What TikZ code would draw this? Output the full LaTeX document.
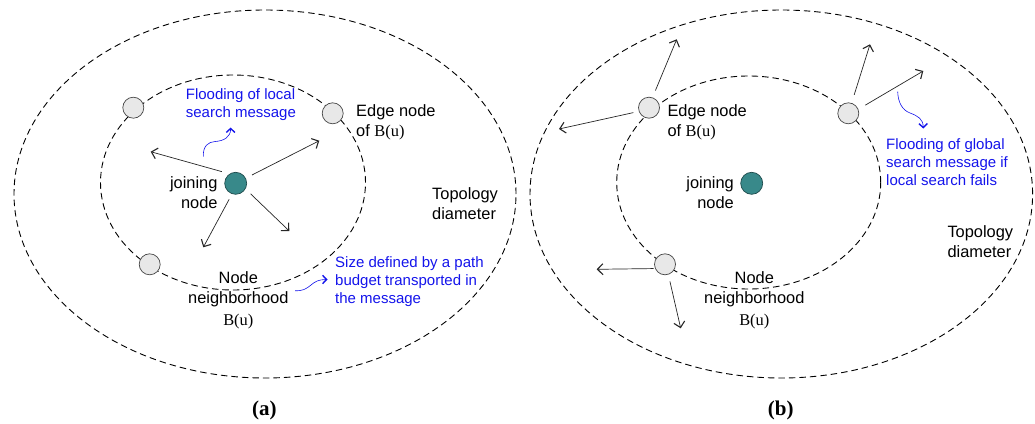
\documentclass[tikz,border=0pt]{standalone}
\usepackage{fontspec}
\setmainfont{Liberation Sans}
\newfontfamily\serifB{Liberation Serif}
\usetikzlibrary{arrows.meta}
\definecolor{teal1}{RGB}{56,137,138}
\definecolor{teal2}{RGB}{30,75,76}
\definecolor{edgefill}{RGB}{232,232,232}
\definecolor{edgeline}{RGB}{70,70,70}
\definecolor{noteblue}{RGB}{20,20,235}
\tikzset{
  ring/.style={draw=black, line width=0.9pt, dash pattern=on 6.5pt off 4pt},
  joinnode/.style={circle, draw=teal2, fill=teal1, line width=0.7pt, minimum size=22pt, inner sep=0pt},
  edgenode/.style={circle, draw=edgeline, fill=edgefill, line width=0.7pt, minimum size=21pt, inner sep=0pt},
  msg/.style={draw=black!85, line width=0.7pt, -{Straight Barb[length=5.5pt,width=11pt,line width=1.1pt]}},
  note/.style={noteblue, font=\fontsize{15}{18}\selectfont, align=left, inner sep=0pt},
  notearrow/.style={draw=noteblue, line width=0.6pt, -{Straight Barb[length=4pt,width=8.5pt,line width=1.4pt]}},
  lbl/.style={black, font=\fontsize{16.4}{20}\selectfont, inner sep=0pt},
  panelcap/.style={font=\serifB\bfseries\fontsize{21}{24}\selectfont, inner sep=0pt},
}
\newcommand{\Bu}{{\serifB B(u)}}
\begin{document}
\begin{tikzpicture}[x=1pt,y=-1pt]
\useasboundingbox (0,0) rectangle (1035,423);

% ---------------- panel (a): local search ----------------
\draw[ring] (265,194) ellipse [x radius=251pt, y radius=184pt];
\draw[ring] (233,182.5) ellipse [x radius=132.5pt, y radius=107.5pt];

\node[edgenode] (a1) at (133.3,107.7) {};
\node[edgenode] (a2) at (332.7,113.3) {};
\node[edgenode] (a3) at (149.7,264.3) {};
\node[joinnode] (aJ) at (235.7,183.3) {};

\coordinate (at1) at (150.7,151.7);
\coordinate (at2) at (319.3,140.7);
\coordinate (at3) at (289.3,231);
\coordinate (at4) at (203.3,247.3);
\draw[msg, shorten <=8pt] (aJ.123) -- (at1);
\draw[msg, shorten <=7pt] (aJ.27) -- (at2);
\draw[msg, shorten <=7pt] (aJ.-30) -- (at3);
\draw[msg, shorten <=6pt] (aJ.-109) -- (at4);

\node[lbl, anchor=east, align=right] (aJl) at (217.7,193) {joining\\node};
\node[lbl, anchor=west, align=left] (aEl) at (356,122.7) {Edge node\\of \Bu};
\node[lbl, anchor=west, align=left] (aTl) at (432,203.3) {Topology\\diameter};
\node[lbl, align=center] (aNl) at (238.3,300.5) {Node\\neighborhood\\[2pt]\Bu};

\node[note, anchor=west] (aF) at (185.7,104.2) {Flooding of local\\search message};
\node[note, anchor=west] (aS) at (335,281.3) {Size defined by a path\\budget transported in\\the message};

\coordinate (aw1s) at (203.3,156.5);
\coordinate (aw1e) at (230.7,127.5);
\draw[notearrow] (aw1s) .. controls (203,146) and (208,142) .. (215,141.5)
                        .. controls (224,141) and (230.5,137) .. (aw1e);
\coordinate (aw2s) at (295,290.7);
\coordinate (aw2e) at (327.5,279.5);
\draw[notearrow] (aw2s) .. controls (303,291) and (306,289) .. (311,285)
                        .. controls (315,281.5) and (319,279.5) .. (aw2e);

\node[panelcap] (capA) at (264.3,410) {(a)};

% ---------------- panel (b): global search ----------------
\draw[ring] (781.3,194) ellipse [x radius=251.3pt, y radius=184pt];
\draw[ring] (748.7,182.5) ellipse [x radius=132pt, y radius=106.5pt];

\node[edgenode] (b1) at (649,107.7) {};
\node[edgenode] (b2) at (848.3,113.3) {};
\node[edgenode] (b3) at (665,264.3) {};
\node[joinnode] (bJ) at (751.7,183.3) {};

\coordinate (bt1) at (676.7,39.3);
\coordinate (bt2) at (559,129);
\coordinate (bt3) at (870,44.3);
\coordinate (bt4) at (923.3,71);
\coordinate (bt5) at (596.7,269.3);
\coordinate (bt6) at (680.7,328.3);
\draw[msg, shorten <=7.5pt] (b1.71) -- (bt1);
\draw[msg, shorten <=5.5pt] (b1.-160) -- (bt2);
\draw[msg, shorten <=8.5pt] (b2.72) -- (bt3);
\draw[msg, shorten <=8pt] (b2.22) -- (bt4);
\draw[msg, shorten <=1.5pt] (b3.-157) -- (bt5);
\draw[msg, shorten <=7pt] (b3.-72) -- (bt6);

\node[lbl, anchor=east, align=right] (bJl) at (734,193) {joining\\node};
\node[lbl, anchor=west, align=left] (bEl) at (667.3,122.7) {Edge node\\of \Bu};
\node[lbl, anchor=west, align=left] (bTl) at (947.3,241.2) {Topology\\diameter};
\node[lbl, align=center] (bNl) at (754.3,300.5) {Node\\neighborhood\\[2pt]\Bu};

\node[note, anchor=west] (bF) at (886,161.7) {Flooding of global\\search message if\\local search fails};

\coordinate (bws) at (897.7,91.7);
\coordinate (bwe) at (923.3,128.5);
\draw[notearrow] (bws) .. controls (898,102) and (902,110) .. (910,113)
                       .. controls (918,116) and (923,119) .. (bwe);

\node[panelcap] (capB) at (780.7,410) {(b)};
\end{tikzpicture}
\end{document}
